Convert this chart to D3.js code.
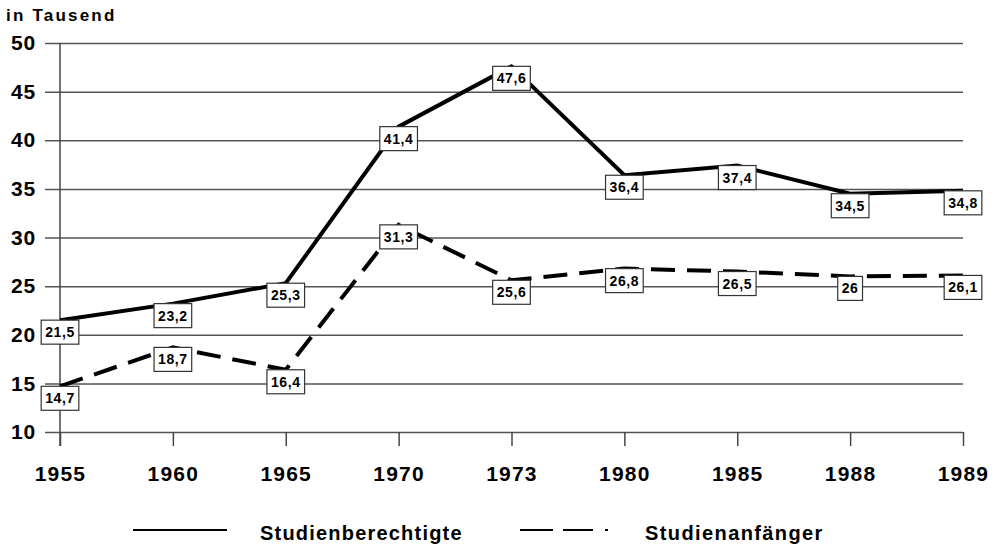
<!DOCTYPE html>
<html>
<head>
<meta charset="utf-8">
<script src="https://cdn.jsdelivr.net/npm/d3@7"></script>
<style>
    body { margin: 0; background: #fff; }
    svg { display: block; font-family: Arial, "Liberation Sans", sans-serif; }
</style>
</head>
<body>
<svg id="chart" width="997" height="546"></svg>
<script>
// ----------------- DATA -----------------
var years = ['1955', '1960', '1965', '1970', '1973', '1980', '1985', '1988', '1989'];
var berechtigte = [21.5, 23.2, 25.3, 41.4, 47.6, 36.4, 37.4, 34.5, 34.8];
var anfaenger = [14.7, 18.7, 16.4, 31.3, 25.6, 26.8, 26.5, 26, 26.1];
var yTicks = [10, 15, 20, 25, 30, 35, 40, 45, 50];
var seriesNames = ['Studienberechtigte', 'Studienanfänger'];

// ----------------- CHART -----------------
var svg = d3.select('#chart');
var margin = {top: 43, right: 34, bottom: 114, left: 60};
var width = 997, height = 546;

var x = d3.scalePoint()
    .domain(years)
    .range([margin.left, width - margin.right]);
var y = d3.scaleLinear()
    .domain([10, 50])
    .range([height - margin.bottom, margin.top]);

var de = d3.formatLocale({decimal: ',', thousands: '.', grouping: [3], currency: ['', ' €']});
var fmt = de.format('~g');

// title
svg.append('text')
    .attr('x', 6).attr('y', 21)
    .style('font-size', '17px').style('font-weight', 'bold').style('letter-spacing', '2.2px')
    .text('in Tausend');

// gridlines + y axis
var yAxis = d3.axisLeft(y)
    .tickValues(yTicks)
    .tickSize(-(width - margin.right - margin.left + 15))
    .tickPadding(8)
    .tickFormat(d3.format('d'));
var gy = svg.append('g')
    .attr('transform', 'translate(' + (margin.left - 15) + ',0)')
    .call(yAxis);
gy.select('.domain').remove();
gy.selectAll('line').attr('stroke', '#555').attr('stroke-width', 1.5);
gy.selectAll('text')
    .style('font-size', '21px').style('font-weight', 'bold').style('letter-spacing', '0.8px')
    .attr('fill', '#000').attr('x', -9);

// vertical axis line
svg.append('line')
    .attr('x1', margin.left).attr('x2', margin.left)
    .attr('y1', y(50)).attr('y2', y(10) + 14)
    .attr('stroke', '#444').attr('stroke-width', 1.5);

// x axis
var xAxis = d3.axisBottom(x).tickSize(14).tickPadding(20);
var gx = svg.append('g')
    .attr('transform', 'translate(0,' + y(10) + ')')
    .call(xAxis);
gx.select('.domain').remove();
gx.selectAll('line').attr('stroke', '#444').attr('stroke-width', 1.5);
gx.selectAll('text')
    .style('font-size', '21px').style('font-weight', 'bold').style('letter-spacing', '1.2px')
    .attr('fill', '#000');

// lines
var line = d3.line()
    .x(function(d, i) { return x(years[i]); })
    .y(function(d) { return y(d); });

svg.append('path')
    .datum(berechtigte)
    .attr('d', line)
    .attr('fill', 'none').attr('stroke', '#000').attr('stroke-width', 4);

svg.append('path')
    .datum(anfaenger)
    .attr('d', line)
    .attr('fill', 'none').attr('stroke', '#000').attr('stroke-width', 4)
    .attr('stroke-dasharray', '24,12');

// value labels
function drawLabels(values) {
    var g = svg.append('g').selectAll('g')
        .data(values)
        .join('g')
        .attr('transform', function(d, i) { return 'translate(' + x(years[i]) + ',' + y(d) + ')'; });
    g.append('text')
        .attr('text-anchor', 'middle')
        .attr('y', 17)
        .style('font-size', '14px').style('font-weight', 'bold').style('letter-spacing', '0.6px')
        .text(function(d) { return fmt(d); });
    g.each(function() {
        var node = d3.select(this);
        var bb = node.select('text').node().getBBox();
        node.insert('rect', 'text')
            .attr('x', bb.x - 4).attr('y', 0)
            .attr('width', bb.width + 8).attr('height', 24)
            .attr('fill', '#fff').attr('stroke', '#333').attr('stroke-width', 1.2);
    });
}
drawLabels(berechtigte);
drawLabels(anfaenger);

// legend
var legendY = 530;
var legend = svg.append('g');
legend.append('line')
    .attr('x1', 133).attr('x2', 227).attr('y1', legendY).attr('y2', legendY)
    .attr('stroke', '#000').attr('stroke-width', 2);
legend.append('text')
    .attr('x', 260).attr('y', legendY + 10)
    .style('font-size', '20px').style('font-weight', 'bold').style('letter-spacing', '1.2px')
    .text(seriesNames[0]);
legend.append('line')
    .attr('x1', 520).attr('x2', 608).attr('y1', legendY).attr('y2', legendY)
    .attr('stroke', '#000').attr('stroke-width', 2)
    .attr('stroke-dasharray', '33,10,30,12,3,100');
legend.append('text')
    .attr('x', 645).attr('y', legendY + 10)
    .style('font-size', '20px').style('font-weight', 'bold').style('letter-spacing', '1.4px')
    .text(seriesNames[1]);
</script>
</body>
</html>
